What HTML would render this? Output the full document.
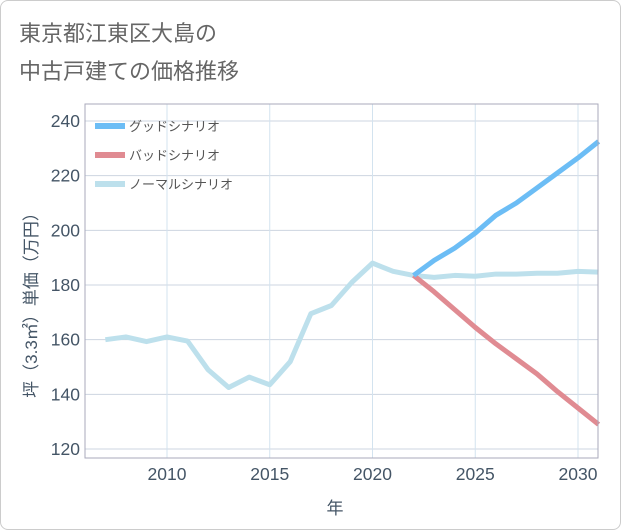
<!DOCTYPE html>
<html><head><meta charset="utf-8"><style>
body{margin:0;background:#fff;}
#wrap{position:relative;width:619px;height:528px;border:1px solid #ccc;border-radius:8px;overflow:hidden;background:#fff;}
text{font-family:"Liberation Sans","Noto Sans CJK JP",sans-serif;}
</style></head><body>
<div id="wrap">
<svg id="chart" width="621" height="530">
<text x="18" y="40" font-size="22" fill="#666">東京都江東区大島の</text>
<text x="18" y="78" font-size="22" fill="#666">中古戸建ての価格推移</text>
<g id="grid"></g><g id="series"></g><g id="axes"></g>
</svg>
</div>
<script>
const years=[2007,2008,2009,2010,2011,2012,2013,2014,2015,2016,2017,2018,2019,2020,2021,2022,2023,2024,2025,2026,2027,2028,2029,2030,2031];
const normal=[160,161,159.3,161,159.5,149,142.5,146.3,143.5,152,169.5,172.5,181,188,185,183.5,182.8,183.5,183.2,184,184,184.3,184.3,185,184.7];
const goodYears=[2022,2023,2024,2025,2026,2027,2028,2029,2030,2031];
const good=[183.5,189,193.5,199,205.5,210,215.5,221,226.5,232.5];
const bad=[183.5,177.5,171,164.5,158.5,153,147.5,141,135,129];
const yTicks=[120,140,160,180,200,220,240];
const xTicks=[2010,2015,2020,2025,2030];
const L=84,R=597,T=103,B=457;
const xs=y=>166+(y-2010)*(577-166)/20;
const ys=v=>448-(v-120)*(448-120)/120;
const NS='http://www.w3.org/2000/svg';
function mk(p,t,a){const e=document.createElementNS(NS,t);for(const k in a)e.setAttribute(k,a[k]);p.appendChild(e);return e;}
const g=document.getElementById('grid'),s=document.getElementById('series'),ax=document.getElementById('axes');
yTicks.forEach(v=>{const l=mk(g,'line',{x1:L,x2:R,y1:ys(v),y2:ys(v),stroke:'#cdd5e0','stroke-width':1});

const t=mk(ax,'text',{x:L-5,y:ys(v)+6,'text-anchor':'end','font-size':17.5,fill:'#456'});t.textContent=v;
});
xTicks.forEach(v=>{const l=mk(g,'line',{x1:xs(v),x2:xs(v),y1:T,y2:B,stroke:'#d3e3ef','stroke-width':1});

const t=mk(ax,'text',{x:xs(v),y:479,'text-anchor':'middle','font-size':17.5,fill:'#456'});t.textContent=v;
});
const fr=mk(ax,'rect',{x:L,y:T,width:R-L,height:B-T,fill:'none',stroke:'#aab','stroke-width':1});

function line(xa,va,c,n){const p=mk(s,'polyline',{points:xa.map((x,i)=>xs(x)+','+ys(va[i])).join(' '),fill:'none',stroke:c,'stroke-width':5,'stroke-linejoin':'round'});
}
line(years,normal,'#bde0ec','normal-scenario-line');
line(goodYears,bad,'#e08b92','bad-scenario-line');
line(goodYears,good,'#6cbdf5','good-scenario-line');
const leg=[['グッドシナリオ','#6cbdf5'],['バッドシナリオ','#e08b92'],['ノーマルシナリオ','#bde0ec']];
leg.forEach((d,i)=>{const y=125+i*29;
const r=mk(ax,'rect',{x:94,y:y-3,width:30,height:6,fill:d[1]});
const t=mk(ax,'text',{x:128,y:y+5,'font-size':13,fill:'#555'});t.textContent=d[0];});
const xt=mk(ax,'text',{x:334,y:513,'text-anchor':'middle','font-size':17,fill:'#456'});xt.textContent='年';

const yt=mk(ax,'text',{x:0,y:0,'text-anchor':'middle','font-size':17,fill:'#456',transform:'translate(36,300) rotate(-90)'});yt.textContent='坪（3.3㎡）単価（万円）';

</script>
</body></html>
